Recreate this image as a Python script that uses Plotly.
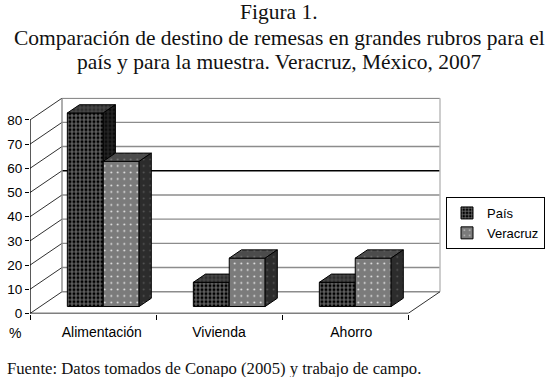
import plotly.graph_objects as go

# ---------------- data ----------------
categories = ["Alimentación", "Vivienda", "Ahorro"]
pais = [80, 10, 10]
veracruz = [60, 20, 20]
y_ticks = [0, 10, 20, 30, 40, 50, 60, 70, 80]
series_names = ["País", "Veracruz"]

# ---------------- 3-D projection settings (style) ----------------
DX, DY = 0.254, 9.0          # full depth of the box, in axis units
F0 = 0.32                    # depth fraction where bar fronts sit
FD = 0.38                    # bar depth as fraction of box depth
BW = 0.285                   # bar width
XMIN, XMAX = -0.5, 2.5
YMAX = max(y_ticks)

bx, by = F0 * DX, F0 * DY    # front-face shift
ddx, ddy = FD * DX, FD * DY  # bar depth

styles = {
    "País": dict(front=("#000000", "#7a7a7a"), top=("#2e2e2e", "#6a6a6a"),
                 side=("#0c0c0c", "#4a4a4a"), shape="+", size=4, sol=0.45),
    "Veracruz": dict(front=("#7b7b7b", "#f0f0f0"), top=("#4c4c4c", "#b0b0b0"),
                     side=("#2c2c2c", "#8a8a8a"), shape=".", size=6.5, sol=0.06),
}

fig = go.Figure()


def add_series(name, values, center_shift, xa, ya):
    st = styles[name]
    xs = [i + bx + center_shift for i in range(len(values))]
    fig.add_trace(go.Bar(
        x=xs, y=values, base=[by] * len(values), width=BW, name=name,
        xaxis=xa, yaxis=ya,
        marker=dict(color=st["front"][0], line=dict(color="#000", width=1),
                    pattern=dict(shape=st["shape"], bgcolor=st["front"][0],
                                 fgcolor=st["front"][1], size=st["size"],
                                 solidity=st["sol"], fillmode="replace")),
        hoverinfo="skip", showlegend=True))
    for xc, v in zip(xs, values):
        xl, xr = xc - BW / 2, xc + BW / 2
        yb, yt = by, by + v
        # top face
        fig.add_trace(go.Scatter(
            x=[xl, xl + ddx, xr + ddx, xr, xl],
            y=[yt, yt + ddy, yt + ddy, yt, yt],
            mode="lines", fill="toself", xaxis=xa, yaxis=ya,
            line=dict(color="#000", width=1), fillcolor=st["top"][0],
            fillpattern=dict(shape=st["shape"], bgcolor=st["top"][0],
                             fgcolor=st["top"][1], size=st["size"],
                             solidity=st["sol"]),
            hoverinfo="skip", showlegend=False))
        # side face
        fig.add_trace(go.Scatter(
            x=[xr, xr + ddx, xr + ddx, xr, xr],
            y=[yb, yb + ddy, yt + ddy, yt, yb],
            mode="lines", fill="toself", xaxis=xa, yaxis=ya,
            line=dict(color="#000", width=1), fillcolor=st["side"][0],
            fillpattern=dict(shape=st["shape"], bgcolor=st["side"][0],
                             fgcolor=st["side"][1], size=st["size"],
                             solidity=st["sol"]),
            hoverinfo="skip", showlegend=False))


add_series("País", pais, -BW / 2, "x", "y")
add_series("Veracruz", veracruz, BW / 2, "x2", "y2")

# ---------------- frame: walls, grid, floor ----------------
shapes = []
for v in y_ticks:
    col = "#000000" if v == 50 else "#8c8c8c"
    shapes.append(dict(type="line", xref="x", yref="y", layer="below",
                       x0=XMIN + DX, x1=XMAX + DX, y0=v + DY, y1=v + DY,
                       line=dict(color=col, width=1.4)))
    shapes.append(dict(type="line", xref="x", yref="y", layer="below",
                       x0=XMIN, x1=XMIN + DX, y0=v, y1=v + DY,
                       line=dict(color="#303030", width=1)))
shapes.append(dict(type="line", xref="x", yref="y", layer="below",
                   x0=XMIN + DX, x1=XMIN + DX, y0=DY, y1=YMAX + DY,
                   line=dict(color="#8c8c8c", width=1.4)))
shapes.append(dict(type="line", xref="x", yref="y", layer="below",
                   x0=XMAX + DX, x1=XMAX + DX, y0=DY, y1=YMAX + DY,
                   line=dict(color="#bdbdbd", width=1.5)))
shapes.append(dict(type="line", xref="x", yref="y", layer="below",
                   x0=XMAX, x1=XMAX + DX, y0=0, y1=DY,
                   line=dict(color="#303030", width=1)))
shapes.append(dict(type="line", xref="x", yref="y", layer="above",
                   x0=XMIN, x1=XMAX, y0=0, y1=0,
                   line=dict(color="#000", width=1.3)))
shapes.append(dict(type="line", xref="x", yref="y", layer="above",
                   x0=XMIN, x1=XMIN, y0=0, y1=YMAX,
                   line=dict(color="#000", width=1.3)))

W, H = 558, 377
px_left, px_right, px_top, px_bottom = 30, 441, 97.7, 313.5
xdom = [px_left / W, px_right / W]
ydom = [(H - px_bottom) / H, (H - px_top) / H]
xr_ = [XMIN, XMIN + (px_right - px_left) / 126.0]
yr_ = [0, YMAX + DY + 0.2]

sans = "Liberation Sans, Arial, sans-serif"
serif = "Liberation Serif, Times New Roman, serif"

label_pos = [0.07, 1.0, 2.05]

title_lines = ["Figura 1.",
               "Comparación de destino de remesas en grandes rubros para el",
               "país y para la muestra. Veracruz, México, 2007"]
title_y = [12, 38, 62]

annotations = [
    dict(text=t, xref="paper", yref="paper", x=0.5, y=(H - yy) / H,
         xanchor="center", yanchor="middle", showarrow=False,
         font=dict(family=serif, size=21.5, color="#111"))
    for t, yy in zip(title_lines, title_y)
]
annotations += [
    dict(text="%", xref="paper", yref="paper", x=15 / W, y=(H - 333) / H,
         xanchor="center", yanchor="middle", showarrow=False,
         font=dict(family=sans, size=14, color="#000")),
    dict(text="Fuente: Datos tomados de Conapo (2005) y trabajo de campo.",
         xref="paper", yref="paper", x=5 / W, y=(H - 368) / H,
         xanchor="left", yanchor="middle", showarrow=False,
         font=dict(family=serif, size=16.7, color="#111")),
]

fig.update_layout(
    width=W, height=H, margin=dict(l=0, r=0, t=0, b=0, autoexpand=False),
    paper_bgcolor="white", plot_bgcolor="white",
    barmode="overlay", shapes=shapes,
    xaxis=dict(domain=xdom, range=xr_, showgrid=False, zeroline=False,
               showline=False, tickvals=label_pos, ticktext=categories,
               ticks="outside", ticklen=6, tickcolor="rgba(0,0,0,0)",
               tickfont=dict(family=sans, size=14, color="#000")),
    yaxis=dict(domain=ydom, range=yr_, showgrid=False, zeroline=False,
               showline=False, tickvals=y_ticks, ticks="outside", ticklen=4,
               tickcolor="#000", tickwidth=1.3,
               tickfont=dict(family=sans, size=13.5, color="#000")),
    xaxis2=dict(domain=xdom, range=xr_, overlaying="x", anchor="y2",
                showgrid=False, zeroline=False, showline=False,
                tickvals=[-0.5, 0.5, 1.5, 2.5], ticks="outside", ticklen=5,
                tickcolor="#000", tickwidth=1.3, showticklabels=False),
    yaxis2=dict(domain=ydom, range=yr_, overlaying="y", anchor="x2",
                visible=False),
    legend=dict(x=446 / W, y=(H - 197) / H, xanchor="left", yanchor="top",
                bordercolor="#000", borderwidth=1, bgcolor="white",
                itemwidth=30,
                font=dict(family=sans, size=13, color="#000"),
                tracegroupgap=0),
    annotations=annotations,
)

fig.write_html("out.html",
               config={"displayModeBar": False},
               post_script="document.body.style.margin='0';")
